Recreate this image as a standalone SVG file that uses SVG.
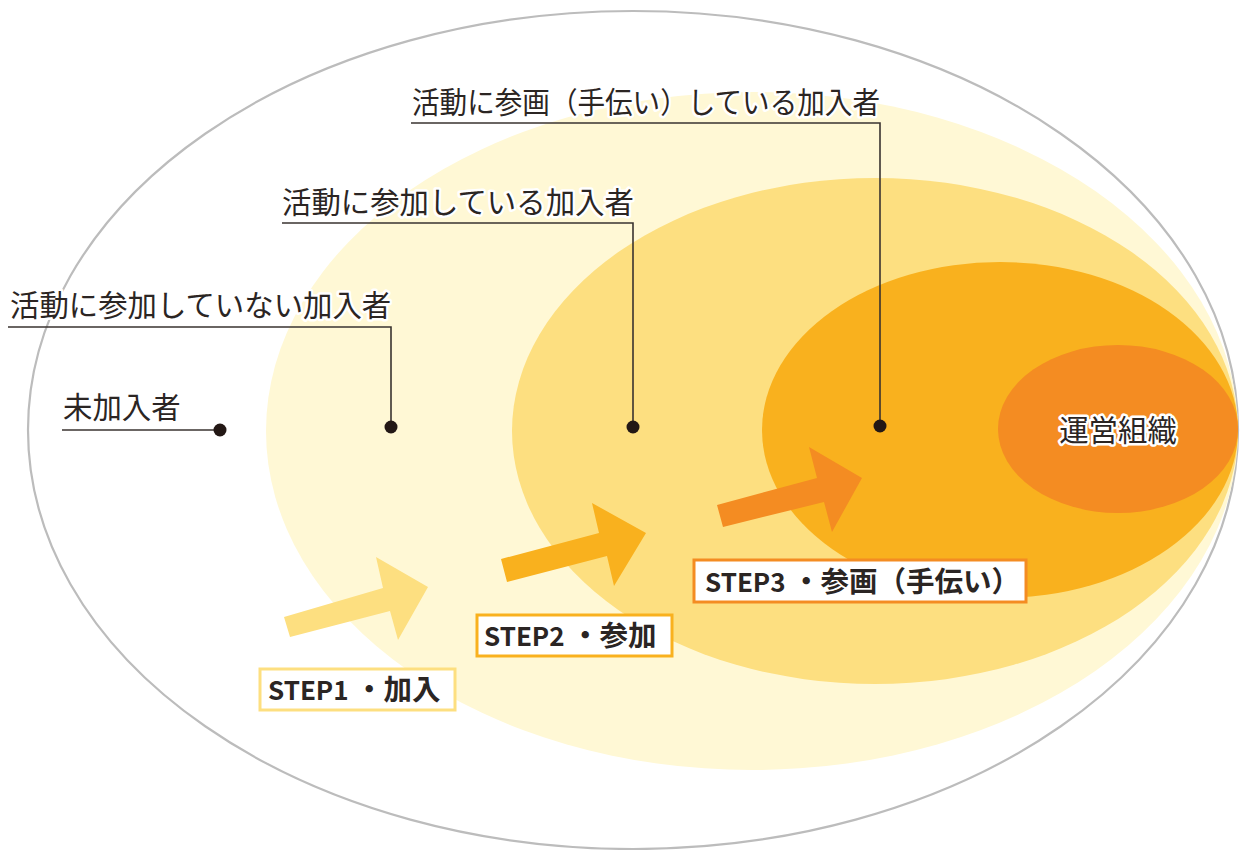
<svg xmlns="http://www.w3.org/2000/svg" width="1241" height="850" viewBox="0 0 1241 850">
<style>
.lbl{font-family:"Noto Sans CJK JP","Noto Sans",sans-serif;font-size:29.4px;fill:#2b2523;stroke:#fff;stroke-width:5px;stroke-linejoin:round;paint-order:stroke}
.step{font-family:"Noto Sans CJK JP","Noto Sans",sans-serif;font-size:26px;font-weight:bold;fill:#2b2523}
.jp{font-size:28.5px}
.lead{fill:none;stroke:#3a3330;stroke-width:1.6}
.dot{fill:#231815}
</style>
<rect width="1241" height="850" fill="#fff"/>
<g id="outer"><ellipse cx="633" cy="430" rx="605" ry="419" fill="#fff" stroke="#bcbcbc" stroke-width="2.2"/></g>
<g id="layer1"><ellipse cx="752" cy="431" rx="486" ry="339" fill="#FFF8D5"/></g>
<g id="layer2"><ellipse cx="875" cy="431" rx="363" ry="253" fill="#FDDF80"/></g>
<g id="layer3"><ellipse cx="1000" cy="430" rx="238" ry="168" fill="#F9B11E"/></g>
<g id="layer4"><ellipse cx="1118" cy="429" rx="120" ry="84" fill="#F48C22"/>
<text class="lbl" x="1118" y="441" text-anchor="middle">運営組織</text></g>
<g id="connectors">
<polyline class="lead" points="411,123 880,123 880,426"/>
<polyline class="lead" points="282,223 633,223 633,427"/>
<polyline class="lead" points="8,327 391,327 391,427"/>
<polyline class="lead" points="62,430 220,430"/>
<circle class="dot" cx="880" cy="426" r="6.5"/>
<circle class="dot" cx="633" cy="427" r="6.5"/>
<circle class="dot" cx="391" cy="427" r="6.5"/>
<circle class="dot" cx="220" cy="430" r="6.5"/>
</g>
<g id="label-sankaku"><text class="lbl" x="412" y="113" textLength="468" lengthAdjust="spacingAndGlyphs">活動に参画（手伝い）している加入者</text></g>
<g id="label-sanka"><text class="lbl" x="282" y="213">活動に参加している加入者</text></g>
<g id="label-fusanka"><text class="lbl" x="10" y="316">活動に参加していない加入者</text></g>
<g id="label-mikanyu"><text class="lbl" x="63" y="418">未加入者</text></g>
<g id="arrows">
<polygon fill="#FDDF80" points="284,617 383,588 376,557 428,587 398,640 390,611 290,637"/>
<polygon fill="#F9B11E" points="501,559 599,533 592,503 646,533 614,586 607,556 507,582"/>
<polygon fill="#F48C22" points="717,505 817,478 809,447 862,478 832,532 824,502 723,527"/>
</g>
<g id="step1"><rect x="260" y="669" width="195" height="41" fill="#fff" stroke="#FDDF80" stroke-width="3"/>
<text class="step" x="268" y="700">STEP1<tspan class="jp"> ・加入</tspan></text></g>
<g id="step2"><rect x="477" y="615" width="195" height="41" fill="#fff" stroke="#F9B11E" stroke-width="3"/>
<text class="step" x="484" y="646">STEP2<tspan class="jp"> ・参加</tspan></text></g>
<g id="step3"><rect x="694" y="560" width="332" height="42" fill="#fff" stroke="#F48C22" stroke-width="3"/>
<text class="step" x="705" y="592">STEP3<tspan class="jp"> ・参画（手伝い）</tspan></text></g>
</svg>
